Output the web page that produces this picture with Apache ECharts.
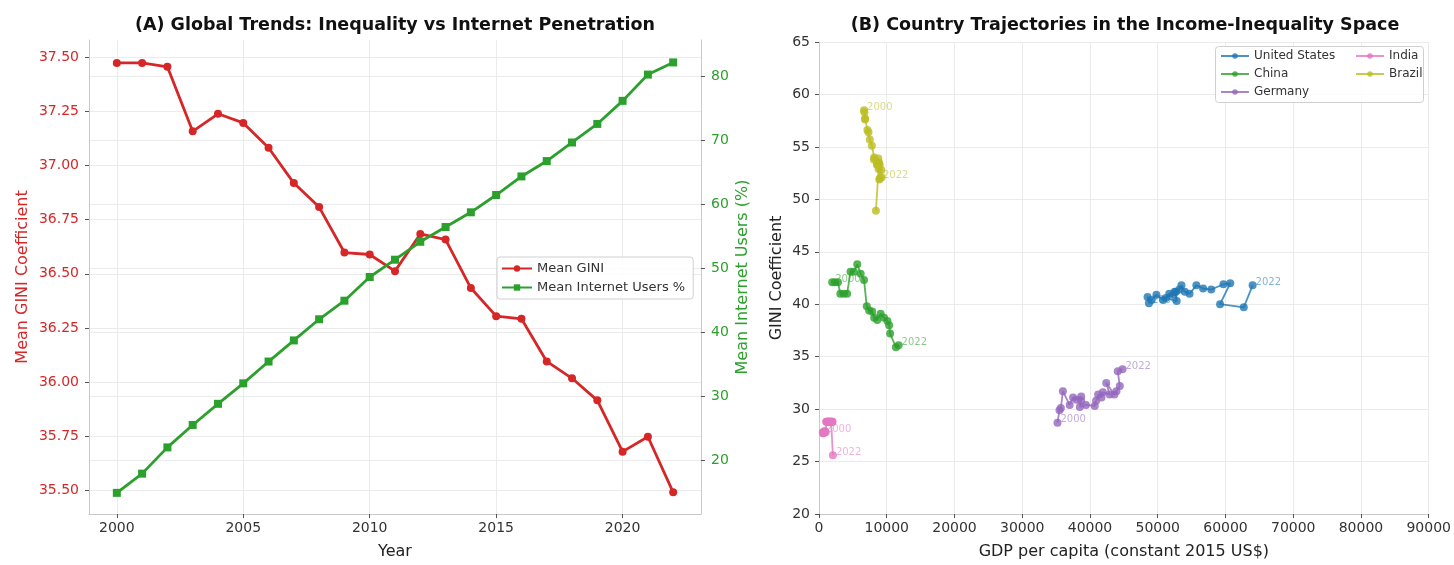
<!DOCTYPE html>
<html>
<head>
<meta charset="utf-8">
<script src="https://cdn.jsdelivr.net/npm/echarts@6/dist/echarts.min.js"></script>
<style>
  html, body { margin: 0; padding: 0; background: #ffffff; }
  #chart { width: 1454px; height: 565px; }
</style>
</head>
<body>
<div id="chart"></div>
<script>
// ---- Panel A: yearly global means ----
const years = [2000, 2001, 2002, 2003, 2004, 2005, 2006, 2007, 2008, 2009, 2010, 2011,
               2012, 2013, 2014, 2015, 2016, 2017, 2018, 2019, 2020, 2021, 2022];
const meanGini = [37.474, 37.474, 37.456, 37.158, 37.239, 37.197, 37.082, 36.919, 36.808, 36.598,
                  36.589, 36.512, 36.684, 36.658, 36.434, 36.304, 36.292, 36.095, 36.017, 35.915,
                  35.678, 35.747, 35.490];
const meanInternet = [14.9, 17.9, 22.0, 25.5, 28.8, 32.0, 35.4, 38.7, 42.0, 44.9, 48.6, 51.3,
                      54.1, 56.4, 58.7, 61.4, 64.3, 66.7, 69.6, 72.5, 76.1, 80.2, 82.1];
const yearTicks = [2000, 2005, 2010, 2015, 2020];
const giniTicks = [35.5, 35.75, 36.0, 36.25, 36.5, 36.75, 37.0, 37.25, 37.5];
const internetTicks = [20, 30, 40, 50, 60, 70, 80];

// ---- Panel B: country trajectories (GDP per capita, GINI), one entry per year ----
const countries = ['United States', 'China', 'Germany', 'India', 'Brazil'];
const usGdp = [48700, 48500, 49100, 49800, 50800, 51700, 52300, 52700, 52800, 51200, 52500, 53200,
               53500, 54000, 54700, 55700, 56700, 57900, 59700, 60700, 59200, 62700, 64000];
const usGini = [40.1, 40.7, 40.4, 40.9, 40.4, 41.0, 40.9, 41.2, 40.3, 40.6, 41.2, 41.4,
                41.8, 41.2, 41.0, 41.8, 41.5, 41.4, 41.9, 42.0, 40.0, 39.7, 41.8];
const chinaGdp = [1950, 2350, 2800, 3150, 3650, 4150, 4650, 5150, 5650, 6150, 6650, 7050,
                  7400, 7850, 8150, 8600, 9100, 9600, 10100, 10350, 10500, 11350, 11750];
const chinaGini = [42.1, 42.1, 42.1, 41.0, 41.0, 41.0, 43.1, 43.1, 43.8, 42.9, 42.3, 39.8,
                   39.4, 39.3, 38.7, 38.5, 39.1, 38.7, 38.4, 38.0, 37.2, 35.9, 36.1];
const germanyGdp = [35200, 35500, 35700, 36000, 37000, 37500, 38000, 38700, 38700, 38500, 39400, 40700,
                    40900, 41200, 41700, 41900, 42900, 42400, 43600, 43900, 44400, 44100, 44800];
const germanyGini = [28.7, 29.9, 30.1, 31.7, 30.4, 31.1, 30.9, 31.2, 30.8, 30.2, 30.4, 30.3,
                     30.8, 31.4, 31.1, 31.6, 31.4, 32.5, 31.4, 31.7, 32.2, 33.6, 33.8];
const indiaGdp = [560, 600, 650, 720, 800, 900, 1000, 1060, 1120, 1180, 1250, 1320,
                  1400, 1460, 1530, 1610, 1700, 1790, 1880, 1960, 1830, 1990, 2050];
const indiaGini = [27.8, 27.7, 27.7, 27.8, 27.9, 27.9, 27.8, 28.8, 28.8, 28.8, 28.8, 28.8,
                   28.8, 28.8, 28.8, 28.8, 28.8, 28.8, 28.8, 28.8, 28.8, 28.8, 25.6];
const brazilGdp = [6650, 6700, 6800, 6800, 7150, 7300, 7500, 7800, 8150, 8100, 8600, 8850,
                   8950, 9200, 9250, 8900, 8550, 8650, 8750, 8850, 8400, 8800, 9000];
const brazilGini = [58.5, 58.3, 57.7, 57.6, 56.6, 56.4, 55.7, 55.1, 54.0, 53.8, 53.5, 53.4,
                    53.3, 52.8, 52.1, 51.9, 53.3, 53.3, 53.9, 53.5, 48.9, 52.9, 52.0];
const gdpTicks = [0, 10000, 20000, 30000, 40000, 50000, 60000, 70000, 80000, 90000];

const FONT = 'DejaVu Sans';
const RED = '#d62728', GREEN = '#2ca02c';
const countryColors = ['#1f77b4', '#2ca02c', '#9467bd', '#e377c2', '#bcbd22'];
const countryData = [
  [usGdp, usGini], [chinaGdp, chinaGini], [germanyGdp, germanyGini],
  [indiaGdp, indiaGini], [brazilGdp, brazilGini]
];

const spine = { show: true, lineStyle: { color: '#c9c9c9', width: 1 } };
const tick = { show: true, length: 4, lineStyle: { color: '#555', width: 1 } };
const grid = { show: true, lineStyle: { color: '#ebebeb', width: 1 } };
const tickText = { fontFamily: FONT, fontSize: 14, color: '#333' };
const nameText = { fontFamily: FONT, fontSize: 16, color: '#222' };

function hexAlpha(hex, a) {
  const n = parseInt(hex.slice(1), 16);
  return 'rgba(' + (n >> 16) + ',' + ((n >> 8) & 255) + ',' + (n & 255) + ',' + a + ')';
}

const trajectorySeries = countries.map(function (name, c) {
  const gdp = countryData[c][0], gini = countryData[c][1];
  const last = gdp.length - 1;
  return {
    name: name,
    type: 'line',
    xAxisIndex: 1,
    yAxisIndex: 2,
    symbol: 'circle',
    symbolSize: 8,
    color: countryColors[c],
    lineStyle: { width: 1.8, opacity: 0.8 },
    itemStyle: { opacity: 0.8 },
    emphasis: { disabled: true },
    z: 3,
    data: gdp.map(function (x, i) {
      const item = { value: [x, gini[i]] };
      if (i === 0 || i === last) {
        item.label = {
          show: true,
          formatter: String(years[i]),
          position: 'right',
          distance: -1,
          offset: [0, -3],
          fontFamily: FONT,
          fontSize: 10,
          color: hexAlpha(countryColors[c], 0.7)
        };
      }
      return item;
    })
  };
});

const chart = echarts.init(document.getElementById('chart'), null, { renderer: 'canvas' });

chart.setOption({
  backgroundColor: '#ffffff',
  animation: false,
  textStyle: { fontFamily: FONT },
  grid: [
    { left: 89, right: 753, top: 40, bottom: 49 },
    { left: 819, right: 23, top: 42, bottom: 49 }
  ],
  graphic: [
    { type: 'text', x: 395, y: 25, z: 10,
      style: { text: '(A) Global Trends: Inequality vs Internet Penetration', x: 0, y: 0,
               textAlign: 'center', textVerticalAlign: 'middle',
               font: 'bold 17.5px "DejaVu Sans"', fill: '#111' } },
    { type: 'text', x: 1125, y: 25, z: 10,
      style: { text: '(B) Country Trajectories in the Income-Inequality Space', x: 0, y: 0,
               textAlign: 'center', textVerticalAlign: 'middle',
               font: 'bold 17.5px "DejaVu Sans"', fill: '#111' } },
    { type: 'rect', z: 5,
      shape: { x: 1215.5, y: 46.5, width: 208, height: 56, r: 3 },
      style: { fill: 'rgba(255,255,255,0.85)', stroke: '#d0d0d0', lineWidth: 1 } }
  ],
  legend: [
    {
      left: 497, top: 257,
      orient: 'vertical',
      data: ['Mean GINI', 'Mean Internet Users %'],
      itemWidth: 30, itemHeight: 8, itemGap: 6,
      padding: [5, 8, 5, 4],
      borderColor: '#d0d0d0', borderWidth: 1, borderRadius: 3,
      backgroundColor: 'rgba(255,255,255,0.85)',
      textStyle: { fontFamily: FONT, fontSize: 13, color: '#333' }
    },
    {
      left: 1216, top: 49,
      orient: 'vertical',
      data: ['United States', 'China', 'Germany'],
      itemWidth: 28, itemHeight: 7, itemGap: 6,
      padding: [1, 4],
      z: 6,
      textStyle: { fontFamily: FONT, fontSize: 12, color: '#333' }
    },
    {
      left: 1351, top: 49,
      orient: 'vertical',
      data: ['India', 'Brazil'],
      itemWidth: 28, itemHeight: 7, itemGap: 6,
      padding: [1, 4],
      z: 6,
      textStyle: { fontFamily: FONT, fontSize: 12, color: '#333' }
    }
  ],
  xAxis: [
    {
      type: 'value', gridIndex: 0, min: 1998.9, max: 2023.1,
      name: 'Year', nameLocation: 'middle', nameGap: 30,
      nameTextStyle: nameText,
      axisLine: spine,
      axisTick: Object.assign({ customValues: yearTicks }, tick),
      axisLabel: Object.assign({ customValues: yearTicks, margin: 7,
        formatter: function (v) { return String(v); } }, tickText),
      splitLine: grid
    },
    {
      type: 'value', gridIndex: 1, min: 0, max: 90000, interval: 10000,
      name: 'GDP per capita (constant 2015 US$)', nameLocation: 'middle', nameGap: 30,
      nameTextStyle: nameText,
      axisLine: spine,
      axisTick: Object.assign({ customValues: gdpTicks }, tick),
      axisLabel: Object.assign({ customValues: gdpTicks, margin: 7,
        formatter: function (v) { return String(v); } }, tickText),
      splitLine: grid
    }
  ],
  yAxis: [
    {
      type: 'value', gridIndex: 0, position: 'left', min: 35.39, max: 37.58,
      name: 'Mean GINI Coefficient', nameLocation: 'middle', nameGap: 58,
      nameTextStyle: Object.assign({}, nameText, { color: RED }),
      axisLine: spine,
      axisTick: Object.assign({ customValues: giniTicks }, tick),
      axisLabel: Object.assign({}, tickText, { customValues: giniTicks, margin: 10, color: RED,
        formatter: function (v) { return v.toFixed(2); } }),
      splitLine: grid
    },
    {
      type: 'value', gridIndex: 0, position: 'right', min: 11.6, max: 85.6,
      name: 'Mean Internet Users (%)', nameLocation: 'middle', nameGap: 34,
      nameTextStyle: Object.assign({}, nameText, { color: GREEN }),
      axisLine: spine,
      axisTick: Object.assign({ customValues: internetTicks }, tick),
      axisLabel: Object.assign({}, tickText, { customValues: internetTicks, margin: 10, color: GREEN,
        formatter: function (v) { return String(v); } }),
      splitLine: grid
    },
    {
      type: 'value', gridIndex: 1, min: 20, max: 65, interval: 5,
      name: 'GINI Coefficient', nameLocation: 'middle', nameGap: 34,
      nameTextStyle: nameText,
      axisLine: spine,
      axisTick: tick,
      axisLabel: Object.assign({ margin: 9 }, tickText),
      splitLine: grid
    }
  ],
  series: [
    {
      name: 'Mean GINI', type: 'line', xAxisIndex: 0, yAxisIndex: 0,
      symbol: 'circle', symbolSize: 8, color: RED,
      lineStyle: { width: 2.8 },
      emphasis: { disabled: true },
      data: years.map(function (y, i) { return [y, meanGini[i]]; })
    },
    {
      name: 'Mean Internet Users %', type: 'line', xAxisIndex: 0, yAxisIndex: 1,
      symbol: 'rect', symbolSize: 8, color: GREEN,
      lineStyle: { width: 2.8 },
      emphasis: { disabled: true },
      data: years.map(function (y, i) { return [y, meanInternet[i]]; })
    }
  ].concat(trajectorySeries)
});
</script>
</body>
</html>
